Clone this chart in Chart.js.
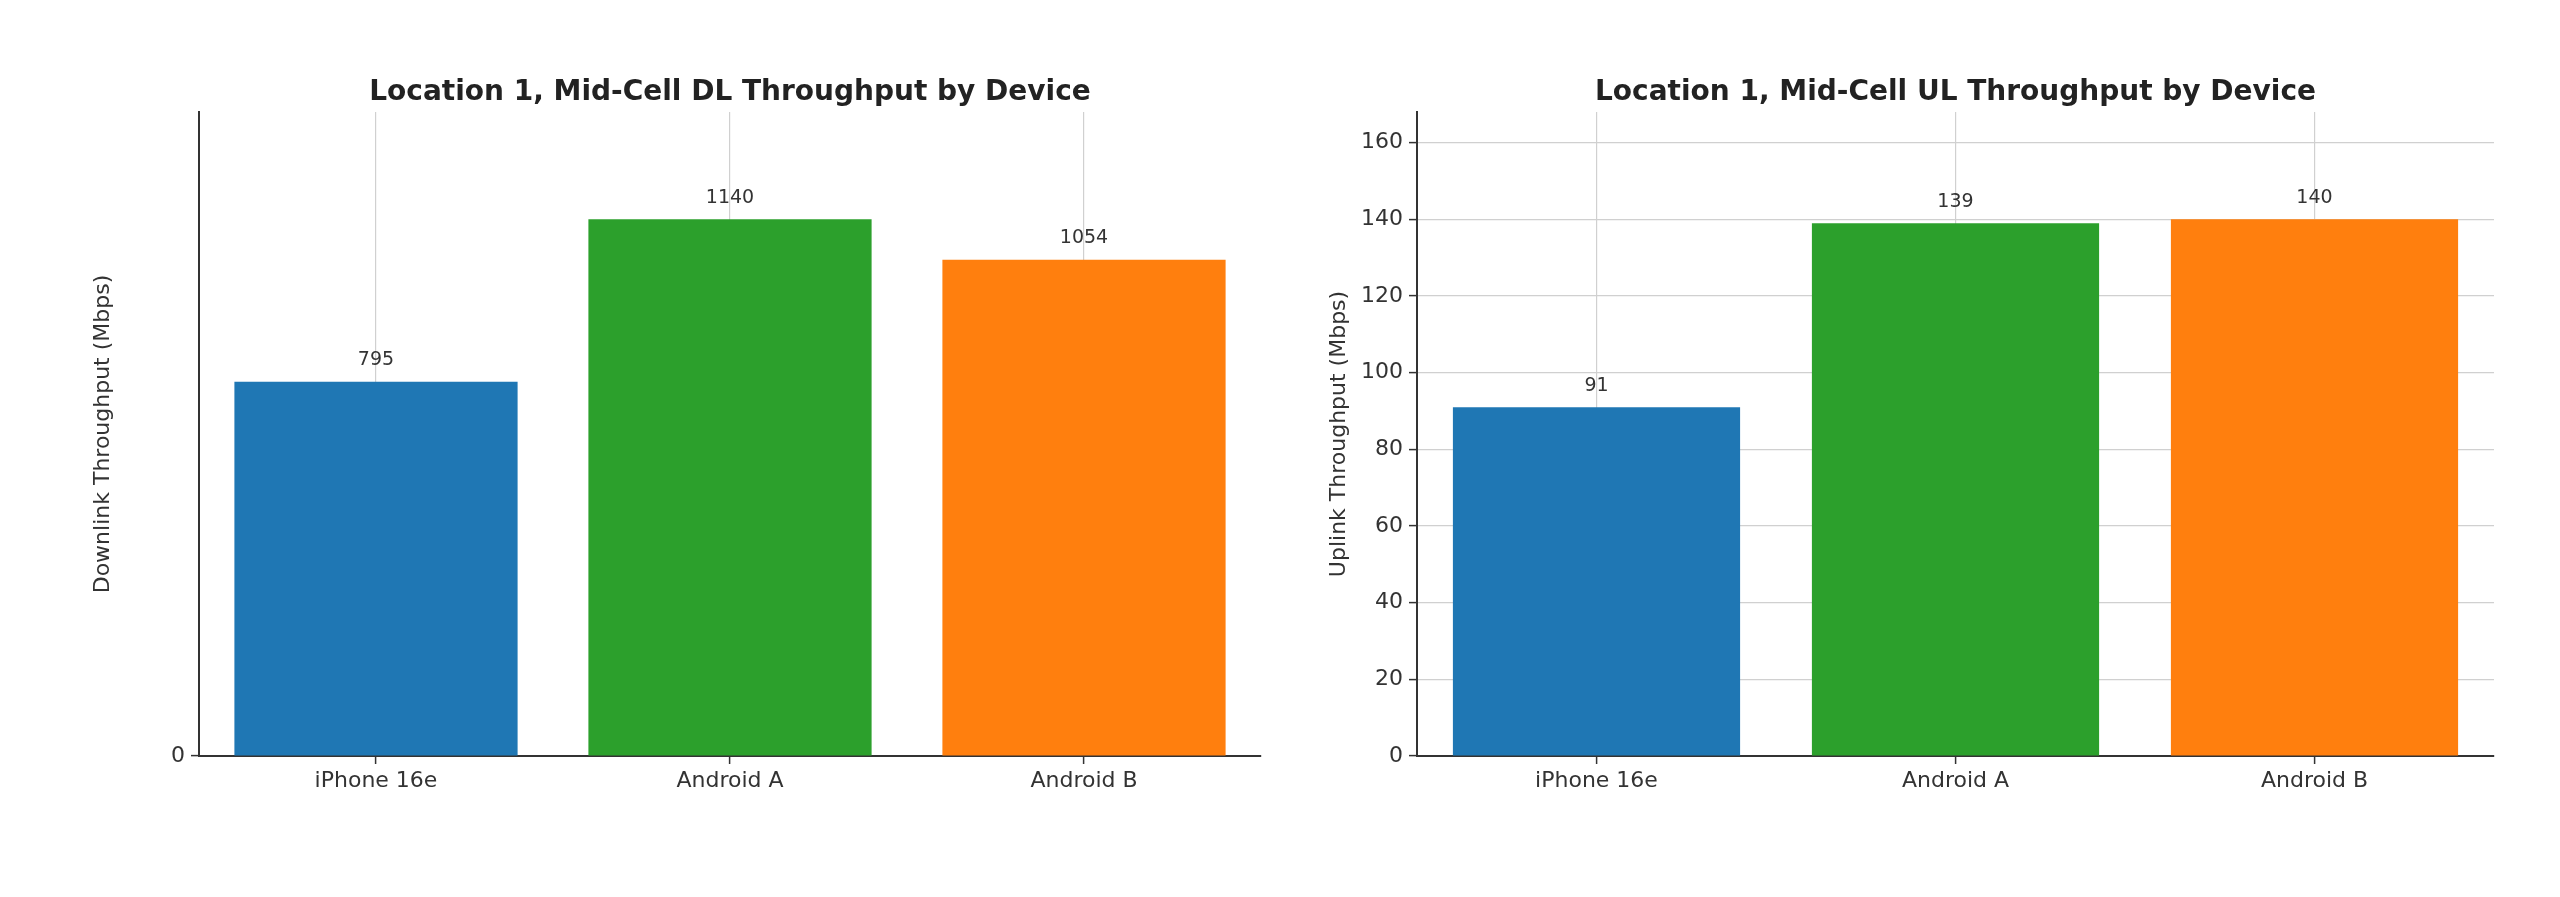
<!DOCTYPE html>
<html><head><meta charset="utf-8">
<script src="https://cdn.jsdelivr.net/npm/chart.js@4"></script>
<style>body{margin:0;background:#fff;width:2560px;height:897px;overflow:hidden;position:relative}
canvas{position:absolute;top:0}</style></head><body>
<canvas id="c1" style="left:0" width="1300" height="897"></canvas>
<canvas id="c2" style="left:1300px" width="1260" height="897"></canvas>
<script>
const categories = ["iPhone 16e", "Android A", "Android B"];
const dlValues = [795, 1140, 1054];
const ulValues = [91, 139, 140];
const colors = ["#1f77b4", "#2ca02c", "#ff7f0e"];
const FONT = "DejaVu Sans";

const labelPlugin = {
  id: 'lbl',
  afterDatasetsDraw(chart) {
    const ctx = chart.ctx;
    const meta = chart.getDatasetMeta(0);
    ctx.save();
    ctx.font = "19px '" + FONT + "'";
    ctx.fillStyle = "#333";
    ctx.textAlign = "center";
    ctx.textBaseline = "bottom";
    meta.data.forEach((b, i) => {
      ctx.fillText(String(chart.data.datasets[0].data[i]), b.x, b.y - 12);
    });
    const t = chart.options.plugins.ttl;
    ctx.font = "bold 28px '" + FONT + "'";
    ctx.fillStyle = "#222";
    ctx.textBaseline = "middle";
    ctx.fillText(t.text, (chart.chartArea.left + chart.chartArea.right) / 2, 93);
    ctx.restore();
  }
};

function make(id, values, max, step, ytitle, title, padL, yW, padR) {
  new Chart(document.getElementById(id), {
    type: 'bar',
    data: { labels: categories, datasets: [{ data: values, backgroundColor: colors, categoryPercentage: 0.8, barPercentage: 1 }] },
    options: {
      responsive: false, animation: false,
      layout: { padding: { left: padL, right: padR, top: 112, bottom: 0 } },
      plugins: { legend: { display: false }, tooltip: { enabled: false }, title: { display: false }, ttl: { text: title } },
      scales: {
        x: {
          afterFit(s) { s.height = 141; },
          grid: { offset: false, color: '#d0d0d0', lineWidth: 1.2, borderDash: [5, 4], tickColor: '#333', tickLength: 8, tickBorderDash: [], tickWidth: 1.5 },
          border: { color: '#333', width: 2 },
          ticks: { color: '#333', font: { family: FONT, size: 22 }, padding: 4 }
        },
        y: {
          min: 0, max: max,
          afterFit(s) { s.width = yW; },
          grid: { color: '#d0d0d0', lineWidth: 1.2, borderDash: [5, 4], tickColor: '#333', tickLength: 8, tickBorderDash: [], tickWidth: 1.5 },
          border: { color: '#333', width: 2 },
          ticks: { stepSize: step, color: '#333', font: { family: FONT, size: 22 }, padding: 6,
            callback: (v) => (v % step === 0 && v <= max - step * 0.3) ? v : null },
          title: { display: true, text: ytitle, color: '#333', font: { family: FONT, size: 22 }, padding: 0 }
        }
      }
    },
    plugins: [labelPlugin]
  });
}
make('c1', dlValues, 1368, 200, 'Downlink Throughput (Mbps)', 'Location 1, Mid-Cell DL Throughput by Device', 90, 109, 39);
make('c2', ulValues, 168, 20, 'Uplink Throughput (Mbps)', 'Location 1, Mid-Cell UL Throughput by Device', 26, 91, 66);
</script></body></html>
